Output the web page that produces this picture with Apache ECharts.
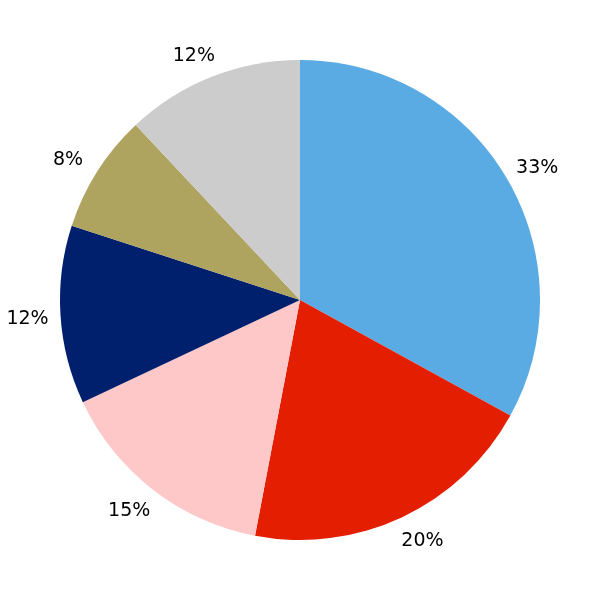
<!DOCTYPE html>
<html><head><meta charset="utf-8">
<script src="https://cdn.jsdelivr.net/npm/echarts@6/dist/echarts.min.js"></script>
<style>html,body{margin:0;padding:0;background:#fff}#c{width:600px;height:600px}</style>
</head><body><div id="c"></div>
<script>
var names = ['A','B','C','D','E','F'];
var values = [33, 20, 15, 12, 8, 12];
var labels = ['33%','20%','15%','12%','8%','12%'];
var colors = ['#5aaae4','#e41e00','#fec8c9','#001f6d','#afa360','#cccccc'];

var pieData = names.map(function(n,i){return {name:n, value:values[i], itemStyle:{color:colors[i]}};});
var labelData = names.map(function(n,i){return {name:n, value:values[i], label:{formatter:labels[i]}};});

var chart = echarts.init(document.getElementById('c'), null, {renderer:'canvas'});
chart.setOption({
  animation:false,
  backgroundColor:'#ffffff',
  series:[
    {type:'pie', center:[300,300], radius:[0,240], startAngle:90, clockwise:true,
     label:{show:false}, labelLine:{show:false}, silent:true, data:pieData,
     itemStyle:{borderWidth:0}},
    {type:'pie', center:[300,300], radius:[256,266], startAngle:90, clockwise:true, silent:true,
     itemStyle:{color:'rgba(0,0,0,0)', borderWidth:0},
     label:{show:true, position:'inside', fontFamily:'DejaVu Sans', fontSize:19, color:'#000'},
     labelLine:{show:false}, data:labelData,
     labelLayout:function(p){
       var cx = p.labelRect.x + p.labelRect.width/2;
       return {dx: cx < 300 ? -9 : 10, dy: 2};
     }}
  ]
});
</script></body></html>
